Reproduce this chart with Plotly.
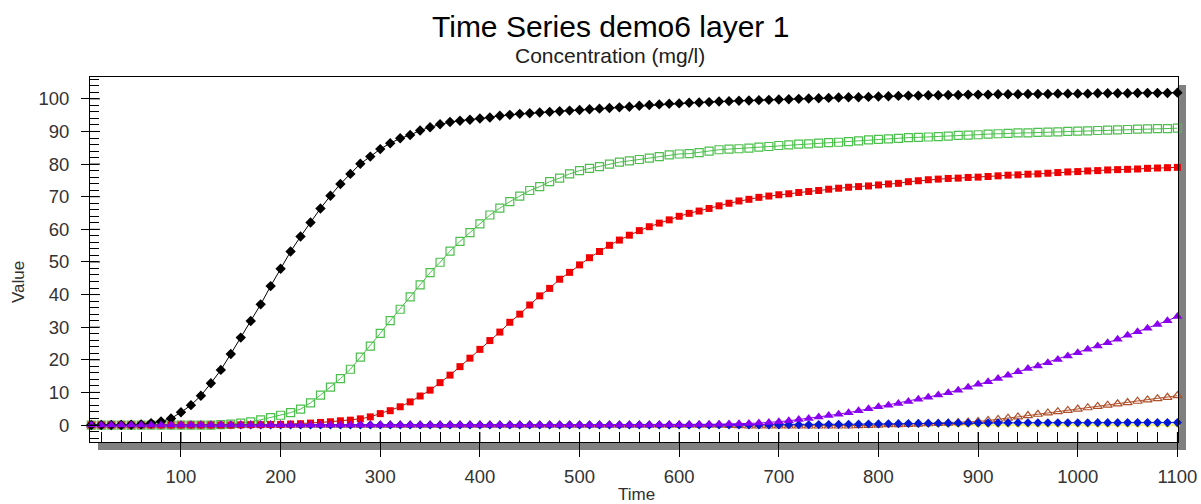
import plotly.graph_objects as go

# ---------------- data ----------------
time = list(range(10, 1101, 10))
x_ticks = [100, 200, 300, 400, 500, 600, 700, 800, 900, 1000, 1100]
y_ticks = [0, 10, 20, 30, 40, 50, 60, 70, 80, 90, 100]

black = [0.0, 0.0, 0.0, 0.0, 0.1, 0.2, 0.6, 1.1, 2.0, 3.9,
         6.1, 9.0, 12.8, 16.9, 21.8, 26.8, 31.9, 37.0, 42.6, 47.9,
         53.2, 57.8, 62.1, 66.4, 70.3, 73.9, 77.0, 80.1, 82.3, 84.6,
         86.4, 87.9, 88.9, 90.3, 91.3, 92.2, 92.9, 93.3, 93.6, 94.0,
         94.3, 94.8, 95.1, 95.4, 95.6, 95.8, 96.0, 96.2, 96.4, 96.6,
         96.8, 97.0, 97.2, 97.4, 97.6, 97.9, 98.1, 98.3, 98.5, 98.6,
         98.8, 98.9, 99.0, 99.2, 99.3, 99.4, 99.5, 99.6, 99.7, 99.8,
         99.9, 100.0, 100.1, 100.2, 100.3, 100.4, 100.5, 100.5, 100.6, 100.7,
         100.8, 100.9, 101.0, 101.0, 101.1, 101.1, 101.2, 101.2, 101.3, 101.3,
         101.3, 101.4, 101.4, 101.4, 101.5, 101.5, 101.5, 101.6, 101.6, 101.6,
         101.6, 101.7, 101.7, 101.7, 101.7, 101.8, 101.8, 101.8, 101.8, 101.9]

green = [0.0, 0.0, 0.0, 0.0, 0.0, 0.0, 0.0, 0.0, 0.0, 0.0,
         0.0, 0.0, 0.0, 0.1, 0.3, 0.6, 1.0, 1.6, 2.3, 3.0,
         3.8, 4.9, 6.8, 9.2, 11.6, 14.2, 17.1, 20.8, 24.2, 28.1,
         32.0, 35.5, 39.3, 43.0, 46.7, 49.9, 53.3, 56.3, 59.0, 61.7,
         64.4, 66.5, 68.5, 70.2, 71.9, 73.1, 74.6, 75.7, 77.0, 78.0,
         78.7, 79.2, 80.0, 80.6, 81.0, 81.4, 81.8, 82.3, 82.8, 83.1,
         83.2, 83.5, 84.0, 84.4, 84.6, 84.7, 84.9, 85.2, 85.4, 85.7,
         85.9, 86.1, 86.2, 86.4, 86.6, 86.7, 86.9, 87.1, 87.4, 87.6,
         87.7, 87.9, 88.1, 88.2, 88.3, 88.4, 88.6, 88.8, 88.9, 89.0,
         89.2, 89.3, 89.4, 89.6, 89.6, 89.7, 89.8, 89.9, 90.0, 90.1,
         90.2, 90.3, 90.4, 90.5, 90.6, 90.7, 90.8, 90.9, 90.9, 91.0]

red = [0.0, 0.0, 0.0, 0.0, 0.0, 0.0, 0.0, 0.0, 0.0, 0.0,
       0.0, 0.0, 0.0, 0.0, 0.0, 0.05, 0.1, 0.1, 0.15, 0.2,
       0.3, 0.4, 0.6, 0.8, 1.0, 1.3, 1.5, 1.9, 2.5, 3.5,
       4.4, 5.6, 7.1, 8.9, 10.7, 13.0, 15.3, 17.9, 20.5, 23.2,
       25.9, 28.5, 31.5, 34.0, 36.8, 39.6, 41.9, 44.7, 46.8, 49.1,
       51.3, 53.2, 55.1, 56.7, 58.2, 59.6, 60.8, 61.9, 62.9, 64.0,
       64.9, 65.6, 66.4, 67.2, 68.0, 68.7, 69.2, 69.8, 70.2, 70.6,
       70.9, 71.3, 71.6, 71.9, 72.3, 72.6, 72.9, 73.1, 73.3, 73.6,
       73.9, 74.1, 74.6, 74.9, 75.2, 75.4, 75.6, 75.7, 75.9, 76.0,
       76.2, 76.4, 76.6, 76.7, 76.9, 77.0, 77.2, 77.4, 77.6, 77.7,
       77.9, 78.0, 78.2, 78.3, 78.4, 78.5, 78.7, 78.8, 78.9, 79.0]

purple = [0.0, 0.0, 0.0, 0.0, 0.0, 0.0, 0.0, 0.0, 0.0, 0.0,
          0.0, 0.0, 0.0, 0.0, 0.0, 0.0, 0.0, 0.0, 0.0, 0.0,
          0.0, 0.0, 0.0, 0.0, 0.0, 0.0, 0.0, 0.0, 0.0, 0.0,
          0.0, 0.0, 0.0, 0.0, 0.0, 0.0, 0.0, 0.0, 0.0, 0.0,
          0.0, 0.0, 0.0, 0.0, 0.0, 0.0, 0.0, 0.0, 0.0, 0.0,
          0.0, 0.0, 0.0, 0.0, 0.0, 0.05, 0.05, 0.1, 0.1, 0.1,
          0.1, 0.15, 0.2, 0.25, 0.3, 0.4, 0.5, 0.6, 0.8, 1.0,
          1.3, 1.7, 2.0, 2.5, 2.9, 3.3, 3.8, 4.4, 5.0, 5.6,
          6.1, 6.6, 7.2, 7.9, 8.5, 9.2, 9.9, 10.7, 11.6, 12.5,
          13.3, 14.3, 15.3, 16.3, 17.3, 18.1, 19.1, 20.1, 21.2, 22.2,
          23.2, 24.2, 25.2, 26.3, 27.5, 28.6, 29.7, 30.8, 32.0, 33.3]

brown = [0.0, 0.0, 0.0, 0.0, 0.0, 0.0, 0.0, 0.0, 0.0, 0.0,
         0.0, 0.0, 0.0, 0.0, 0.0, 0.0, 0.0, 0.0, 0.0, 0.0,
         0.0, 0.0, 0.0, 0.0, 0.0, 0.0, 0.0, 0.0, 0.0, 0.0,
         0.0, 0.0, 0.0, 0.0, 0.0, 0.0, 0.0, 0.0, 0.0, 0.0,
         0.0, 0.0, 0.0, 0.0, 0.0, 0.0, 0.0, 0.0, 0.0, 0.0,
         0.0, 0.0, 0.0, 0.0, 0.0, 0.0, 0.0, 0.0, 0.0, 0.0,
         0.0, 0.0, 0.0, 0.0, -0.1, -0.2, -0.3, -0.3, -0.3, -0.3,
         -0.3, -0.3, -0.3, -0.3, -0.3, -0.3, -0.3, -0.2, -0.1, 0.0,
         0.1, 0.15, 0.2, 0.3, 0.4, 0.5, 0.6, 0.75, 0.9, 1.1,
         1.4, 1.7, 2.1, 2.5, 2.9, 3.3, 3.7, 4.1, 4.5, 4.9,
         5.3, 5.7, 6.1, 6.5, 6.9, 7.3, 7.7, 8.1, 8.5, 9.0]

blue = [0.0, 0.0, 0.0, 0.0, 0.0, 0.0, 0.0, 0.0, 0.0, 0.0,
        0.0, 0.0, 0.0, 0.0, 0.0, 0.0, 0.0, 0.0, 0.0, 0.0,
        0.0, 0.0, 0.0, 0.0, 0.0, 0.0, 0.0, 0.0, 0.0, 0.0,
        0.0, 0.0, 0.0, 0.0, 0.0, 0.0, 0.0, 0.0, 0.0, 0.0,
        0.0, 0.0, 0.0, 0.0, 0.0, 0.0, 0.0, 0.0, 0.0, 0.0,
        0.0, 0.0, 0.0, 0.0, 0.0, 0.0, 0.0, 0.0, 0.0, 0.0,
        0.0, 0.0, 0.0, 0.0, 0.0, 0.01, 0.02, 0.03, 0.04, 0.05,
        0.07, 0.09, 0.11, 0.14, 0.17, 0.2, 0.23, 0.27, 0.31, 0.35,
        0.39, 0.43, 0.47, 0.5, 0.53, 0.56, 0.59, 0.61, 0.63, 0.65,
        0.66, 0.67, 0.68, 0.69, 0.7, 0.7, 0.71, 0.71, 0.72, 0.72,
        0.72, 0.73, 0.73, 0.73, 0.74, 0.74, 0.74, 0.74, 0.75, 0.75]

yellow = [0.0, 0.0, 0.0, 0.0, 0.0, 0.0, 0.0, 0.0, 0.0, 0.0,
          0.0, 0.0, 0.0, 0.0, 0.0, 0.0, 0.0, 0.0, 0.0, 0.0,
          0.0, 0.0, 0.0, 0.0, 0.0, 0.0, 0.0, 0.0, 0.0, 0.0,
          0.0, 0.0, 0.0, 0.0, 0.0, 0.0, 0.0, 0.0, 0.0, 0.0,
          0.0, 0.0, 0.0, 0.0, 0.0, 0.0, 0.0, 0.0, 0.0, 0.0,
          0.0, 0.0, 0.0, 0.0, 0.0, 0.0, 0.0, 0.0, 0.0, 0.0,
          0.0, 0.0, 0.0, 0.0, 0.0, 0.0, 0.0, 0.0, 0.0, 0.0,
          0.0, 0.0, 0.0, 0.0, 0.0, 0.0, 0.0, 0.0, 0.0, 0.0,
          0.0, 0.0, 0.0, 0.0, 0.0, 0.0, 0.0, 0.0, 0.0, 0.0,
          0.0, 0.0, 0.0, 0.0, 0.0, 0.0, 0.0, 0.0, 0.0, 0.0,
          0.0, 0.0, 0.0, 0.0, 0.0, 0.0, 0.0, 0.0, 0.0, 0.0]

# ---------------- layout constants ----------------
W, H = 1201, 504
ML, MR, MT, MB = 90, 23, 77, 62
PW = W - ML - MR
PH = H - MT - MB
FONT = "Liberation Sans, Arial, sans-serif"

styles = [
    ("yellow", yellow, "circle", "#f0f000", "#e8e800", 5),
    ("brown", brown, "triangle-up-open", "#b0502a", "#b0502a", 8),
    ("blue", blue, "diamond", "#0018d8", "#0018d8", 7),
    ("green", green, "square-open", "#4cc04c", "#4cc04c", 8),
    ("red", red, "square", "#f00000", "#b01010", 7),
    ("black", black, "diamond", "#000000", "#000000", 8),
    ("purple", purple, "triangle-up", "#8a00f0", "#8a00f0", 9),
]

fig = go.Figure()
for name, vals, sym, mcol, lcol, size in styles:
    fig.add_trace(go.Scatter(
        x=time, y=vals, mode="lines+markers", name=name,
        line=dict(color=lcol, width=1),
        marker=dict(symbol=sym, size=size, color=mcol,
                    line=dict(width=1.2 if "open" in sym else 0, color=mcol)),
        cliponaxis=False, showlegend=False,
    ))

shapes = []
# inside part of the major ticks
for v in x_ticks:
    shapes.append(dict(type="line", xref="x", yref="y domain", x0=v, x1=v,
                       y0=0, y1=10 / PH, line=dict(color="black", width=1)))
for v in y_ticks:
    shapes.append(dict(type="line", xref="x domain", yref="y", x0=0, x1=10 / PW,
                       y0=v, y1=v, line=dict(color="black", width=1)))
# drop shadow
shapes.append(dict(type="rect", xref="paper", yref="paper", layer="below",
                   x0=1 + 1 / PW, x1=1 + 8 / PW, y0=-8 / PH, y1=1 - 8 / PH,
                   fillcolor="#808080", line=dict(width=0)))
shapes.append(dict(type="rect", xref="paper", yref="paper", layer="below",
                   x0=8 / PW, x1=1 + 8 / PW, y0=-8 / PH, y1=-1 / PH,
                   fillcolor="#808080", line=dict(width=0)))

annotations = [
    dict(text="Time Series demo6 layer 1", xref="paper", yref="paper",
         x=(610 - ML) / PW, y=(H - MB - 26) / PH, xanchor="center", yanchor="middle",
         showarrow=False, font=dict(family=FONT, size=30, color="#000000")),
    dict(text="Concentration (mg/l)", xref="paper", yref="paper",
         x=(610 - ML) / PW, y=(H - MB - 56) / PH, xanchor="center", yanchor="middle",
         showarrow=False, font=dict(family=FONT, size=21, color="#202020")),
    dict(text="Value", xref="paper", yref="paper", textangle=-90,
         x=(18 - ML) / PW, y=(H - MB - 282) / PH, xanchor="center", yanchor="middle",
         showarrow=False, font=dict(family=FONT, size=17, color="#303030")),
    dict(text="Time", xref="paper", yref="paper",
         x=(636 - ML) / PW, y=(H - MB - 494) / PH, xanchor="center", yanchor="middle",
         showarrow=False, font=dict(family=FONT, size=17, color="#303030")),
]

fig.update_layout(
    width=W, height=H, autosize=False,
    margin=dict(l=ML, r=MR, t=MT, b=MB, pad=0),
    paper_bgcolor="white", plot_bgcolor="white",
    shapes=shapes, annotations=annotations,
    xaxis=dict(range=[8.7, 1100.6], tickmode="array", tickvals=x_ticks,
               ticktext=[str(v) for v in x_ticks], automargin=False,
               ticks="outside", ticklen=14, tickwidth=1, tickcolor="black",
               showline=True, linecolor="black", linewidth=1, mirror=True,
               showgrid=False, zeroline=False, ticklabelstandoff=4,
               tickfont=dict(family=FONT, size=18.5, color="#333333"),
               minor=dict(tick0=0, dtick=20, ticks="inside", ticklen=10,
                          tickwidth=1, tickcolor="black", showgrid=False)),
    yaxis=dict(range=[-5.2, 106.7], tickmode="array", tickvals=y_ticks,
               ticktext=[str(v) for v in y_ticks], automargin=False,
               ticks="outside", ticklen=8, tickwidth=1, tickcolor="black",
               showline=True, linecolor="black", linewidth=1, mirror=True,
               showgrid=False, zeroline=False, ticklabelstandoff=8,
               tickfont=dict(family=FONT, size=18.5, color="#333333"),
               minor=dict(tick0=0, dtick=2, ticks="inside", ticklen=9,
                          tickwidth=1, tickcolor="black", showgrid=False)),
)

fig.write_html("out.html")
